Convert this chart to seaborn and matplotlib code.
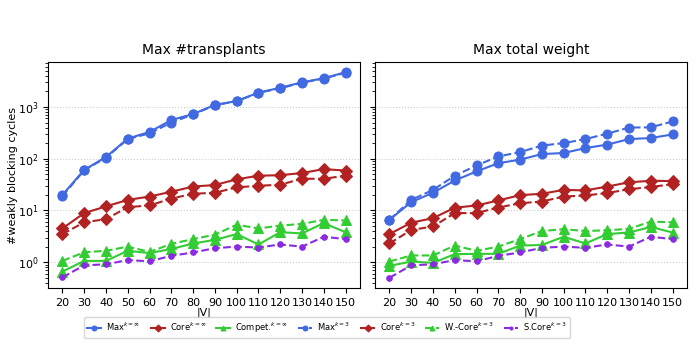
import matplotlib
matplotlib.use("Agg")
import matplotlib.pyplot as plt
import numpy as np
import pandas as pd
import seaborn as sns

sizes = [20, 30, 40, 50, 60, 70, 80, 90, 100, 110, 120, 130, 140, 150]

# Max #transplants
tr_max_inf = [20, 61, 108, 245, 330, 560, 730, 1100, 1300, 1900, 2350, 3000, 3600, 4700]
tr_core_inf = [4.5, 8.9, 12, 16, 18.6, 23, 29, 31, 40, 47, 48, 53, 63, 59]
tr_compet_inf = [0.66, 1.06, 1.06, 1.66, 1.5, 1.8, 2.3, 2.7, 3.5, 2.2, 3.8, 3.6, 5.7, 3.8]
tr_max_3 = [19, 60, 105, 240, 310, 500, 720, 1080, 1300, 1880, 2300, 2950, 3550, 4600]
tr_core_3 = [3.5, 5.9, 6.8, 11.6, 12.5, 17, 21, 22, 28, 30, 31.5, 41, 41, 47]
tr_wcore_3 = [1.06, 1.56, 1.66, 2.0, 1.58, 2.26, 2.8, 3.4, 5.3, 4.5, 5.1, 5.5, 6.6, 6.4]
tr_score_3 = [0.51, 0.87, 0.91, 1.1, 1.04, 1.33, 1.54, 1.87, 2.0, 1.92, 2.2, 2.0, 3.1, 2.8]

# Max total weight
wt_max_inf = [6.6, 14.5, 22, 38, 57, 82, 96, 123, 129, 161, 187, 240, 251, 295]
wt_core_inf = [3.5, 5.8, 7.1, 11.3, 12.5, 15.6, 19.8, 21, 25, 24.4, 29, 35, 37.5, 37]
wt_compet_inf = [0.85, 1.03, 0.97, 1.43, 1.45, 1.45, 2.1, 2.15, 3.1, 2.3, 3.5, 3.75, 4.8, 3.75]
wt_max_3 = [6.6, 16, 25, 47, 74, 111, 134, 180, 200, 240, 305, 400, 405, 525]
wt_core_3 = [2.3, 4.2, 4.9, 8.9, 8.9, 11.4, 13.8, 14.9, 18.6, 19.5, 21.7, 25.8, 28.3, 32.4]
wt_wcore_3 = [1.03, 1.35, 1.35, 2.1, 1.66, 2.0, 2.8, 4.0, 4.35, 4.0, 4.15, 4.4, 6.1, 5.9]
wt_score_3 = [0.5, 0.87, 0.91, 1.1, 1.04, 1.33, 1.54, 1.9, 2.0, 1.9, 2.2, 2.0, 3.1, 2.8]

labels = [r"Max$^{k=\infty}$", r"Core$^{k=\infty}$", r"Compet.$^{k=\infty}$",
          r"Max$^{k=3}$", r"Core$^{k=3}$", r"W.-Core$^{k=3}$", r"S.Core$^{k=3}$"]
colors = ["royalblue", "firebrick", "limegreen", "royalblue", "firebrick", "limegreen", "blueviolet"]
markers = ["o", "D", "^", "o", "D", "^", "."]
styles = ["-", "-", "-", "--", "--", "--", "--"]

panels = [
    ("Max #transplants", [tr_max_inf, tr_core_inf, tr_compet_inf, tr_max_3, tr_core_3, tr_wcore_3, tr_score_3]),
    ("Max total weight", [wt_max_inf, wt_core_inf, wt_compet_inf, wt_max_3, wt_core_3, wt_wcore_3, wt_score_3]),
]

fig, axes = plt.subplots(1, 2, figsize=(7, 3.5), dpi=100, sharey=True)

for ax, (title, series) in zip(axes, panels):
    for vals, lab, c, m, ls in zip(series, labels, colors, markers, styles):
        df = pd.DataFrame({"V": sizes, "n": vals})
        ms = 8 if m == "." else 6.5
        sns.lineplot(data=df, x="V", y="n", ax=ax, color=c, marker=m, linestyle=ls,
                     markersize=ms, markeredgecolor=c, linewidth=1.5, label=lab, legend=False)
    ax.set_yscale("log")
    ax.set_title(title, fontsize=10)
    ax.set_xlabel("|V|", fontsize=8, labelpad=0)
    ax.set_xticks(sizes)
    ax.tick_params(labelsize=8)
    ax.grid(axis="y", which="major", linestyle=":", color="#cccccc", linewidth=0.8)

axes[0].set_ylabel("#weakly blocking cycles", fontsize=8, labelpad=0)
axes[1].set_ylabel("")
axes[1].tick_params(labelleft=False)

handles, lbls = axes[0].get_legend_handles_labels()
fig.legend(handles, lbls, loc="center", ncol=7, bbox_to_anchor=(0.467, 0.063),
           fontsize=6, markerscale=0.55, handlelength=1.7, handletextpad=0.6,
           columnspacing=1.2, borderpad=0.4)

plt.subplots_adjust(left=0.069, right=0.981, top=0.823, bottom=0.177, wspace=0.05)
fig.savefig("out.png", dpi=100)
